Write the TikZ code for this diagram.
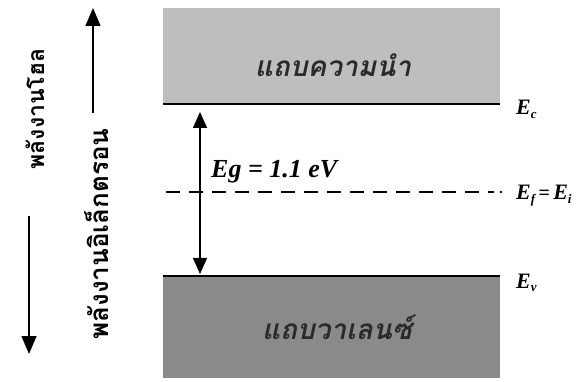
\documentclass[tikz,border=0pt]{standalone}
\usepackage{fontspec}
\setmainfont{Liberation Serif}
\newfontfamily\thaifont[Script=Thai]{Loma}
\usetikzlibrary{arrows.meta}
\definecolor{cbgray}{HTML}{BEBEBE}
\definecolor{vbgray}{HTML}{8A8A8A}
\definecolor{txtgray}{HTML}{2A2A2A}
\newcommand{\elab}[1]{{\fontsize{22}{22}\selectfont\bfseries\itshape E\raisebox{-0.35ex}{\fontsize{13}{13}\selectfont #1}}}
\tikzset{
  band/.style={draw=none, inner sep=0pt, minimum width=337pt},
  bandtext/.style={inner sep=0pt, font=\thaifont\bfseries\itshape\fontsize{28}{28}\selectfont, text=txtgray},
  level/.style={line width=1.8pt},
  elabel/.style={anchor=base west, inner sep=0pt},
  sidetext/.style={rotate=90, inner sep=0pt},
  arr/.style={line width=1.5pt, -{Triangle[length=18pt, width=15pt]}},
  dblarr/.style={line width=1.4pt, {Triangle[length=16pt, width=14pt]}-{Triangle[length=16pt, width=14pt]}}
}
\begin{document}
\begin{tikzpicture}[x=1pt,y=-1pt]
\useasboundingbox (0,0) rectangle (584,382);
% bands
\node[band, fill=cbgray, minimum height=96pt] (cb) at (331.5,56) {};
\node[band, fill=vbgray, minimum height=102pt] (vb) at (331.5,327) {};
\node[bandtext] (cbt) at (333,65) {แถบความนำ};
\node[bandtext] (vbt) at (337,327) {แถบวาเลนซ์};
% level lines
\draw[level] (cb.south west) -- (cb.south east);
\draw[level] (vb.north west) -- (vb.north east);
\node[elabel] (ec) at (516,115) {\elab{c}};
\node[elabel] (ev) at (516,288) {\elab{v}};
% gap arrow
\coordinate (gt) at (200,112);
\coordinate (gb) at (200,274);
\draw[dblarr] (gt) -- (gb);
\node[anchor=base west, inner sep=0pt, font=\bfseries\itshape\fontsize{26}{26}\selectfont] (eg) at (211,178) {Eg = 1.1 eV};
% fermi level
\coordinate (fl) at (166,192);
\coordinate (fr) at (494,192);
\draw[line width=1.8pt, dash pattern=on 14pt off 9pt] (fl) -- (fr);
\fill (501,192) circle (1.3pt);
\node[elabel] (ef) at (516,200) {\elab{f}{\fontsize{20}{20}\selectfont\bfseries\,=\,}\elab{i}};
% side labels
\node[sidetext, font=\thaifont\bfseries\fontsize{23}{23}\selectfont] (hole) at (35,109) {พลังงานโฮล};
\coordinate (ha) at (29,216);
\coordinate (hb) at (29,354);
\draw[arr] (ha) -- (hb);
\coordinate (ea) at (93,113);
\coordinate (eb) at (93,8);
\draw[arr] (ea) -- (eb);
\node[sidetext, font=\thaifont\bfseries\fontsize{26}{26}\selectfont] (elec) at (97,234) {พลังงานอิเล็กตรอน};
\end{tikzpicture}
\end{document}
